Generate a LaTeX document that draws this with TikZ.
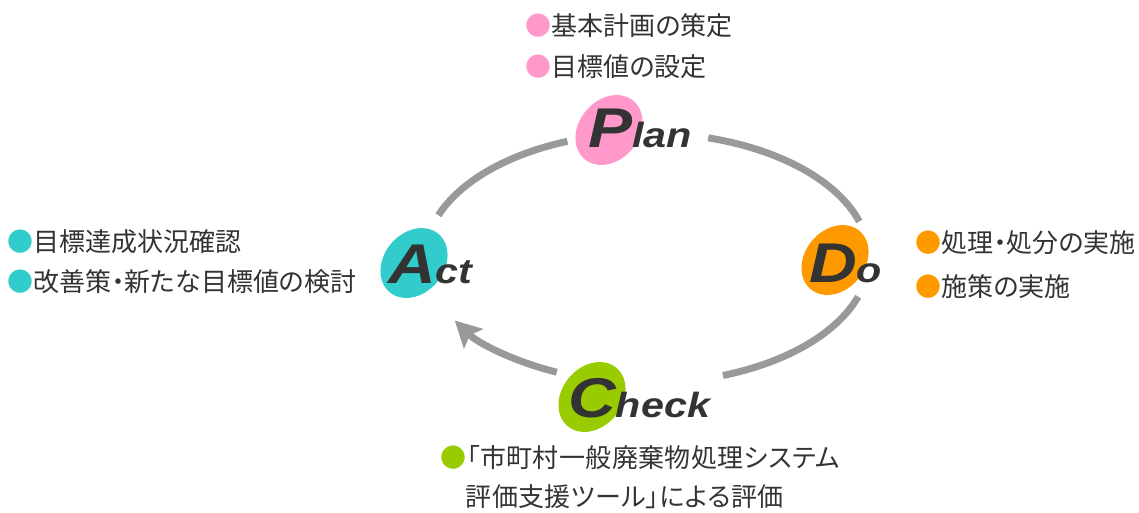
\documentclass[tikz,border=0pt]{standalone}
\usepackage{fontspec}
\usepackage{xcolor}
\usepackage{tikz}
\usetikzlibrary{arrows.meta}
\usetikzlibrary{shapes.geometric}
\newfontfamily\jpfont[RawFeature=+palt]{Noto Sans CJK JP}
\newfontfamily\jpwidefont[RawFeature=+palt,LetterSpace=1.5]{Noto Sans CJK JP}
\newfontfamily\pdcafont[FakeStretch=1.18]{Liberation Sans}
\definecolor{plan_pink}{HTML}{FF99CC}
\definecolor{do_orange}{HTML}{FF9900}
\definecolor{check_green}{HTML}{99CC00}
\definecolor{act_cyan}{HTML}{33CCCC}
\definecolor{arc_gray}{HTML}{999999}
\definecolor{text_gray}{HTML}{333333}
\tikzset{
    blob/.style = {ellipse, inner sep=0pt, minimum width=76pt, minimum height=60pt, rotate=50},
    pdca_label/.style = {anchor=base west, inner sep=0pt, text=text_gray, font=\pdcafont\bfseries\itshape},
    list_text/.style = {anchor=base west, inner sep=0pt, text=text_gray, font=\jpfont\fontsize{26}{26}\selectfont},
    wide_text/.style = {list_text, font=\jpwidefont\fontsize{26}{26}\selectfont},
    cycle_arc/.style = {draw=arc_gray, line width=7pt}
}
\newcommand{\pdcaword}[2]{{\fontsize{56}{56}\selectfont #1}{\fontsize{35}{35}\selectfont #2}}
\begin{document}
\begin{tikzpicture}
            [x=1pt, y=-1pt,
            >={Stealth[length=26pt, width=27pt, inset=5pt]}]

            \useasboundingbox (0,0) rectangle (1139,512);
            \coordinate (cycle_c) at (647,258);

            % the cycle
            \draw [cycle_arc] (cycle_c) ++(-111:222 and 125) arc [start angle=-111, end angle=-160, x radius=222, y radius=125];
            \draw [cycle_arc] (cycle_c) ++(-74:222 and 125) arc [start angle=-74, end angle=-17, x radius=222, y radius=125];
            \draw [cycle_arc] (cycle_c) ++(18:222 and 125) arc [start angle=18, end angle=70, x radius=222, y radius=125];
            \draw [cycle_arc, ->] (cycle_c) ++(114:222 and 125) arc [start angle=114, end angle=150, x radius=222, y radius=125];

            \node [blob, fill=plan_pink] (plan_blob) at (609,130) {};
            \node [blob, fill=do_orange] (do_blob) at (835,260) {};
            \node [blob, fill=check_green] (check_blob) at (592,397) {};
            \node [blob, fill=act_cyan] (act_blob) at (414,263) {};

            \node [pdca_label] (plan_label) at (588,147) {\pdcaword{P}{lan}};
            \node [pdca_label] (do_label) at (809,282) {\pdcaword{D}{o}};
            \node [pdca_label] (check_label) at (568,417) {\pdcaword{C}{heck}};
            \node [pdca_label] (act_label) at (388,283) {\pdcaword{A}{ct}};

            % lists
            \node [list_text] (plan_item_a) at (525.5,35) {\textcolor{plan_pink}{●}基本計画の策定};
            \node [list_text] (plan_item_b) at (525.5,76) {\textcolor{plan_pink}{●}目標値の設定};
            \node [list_text] (do_item_a) at (915.5,252) {\textcolor{do_orange}{●}処理・処分の実施};
            \node [list_text] (do_item_b) at (915.5,296) {\textcolor{do_orange}{●}施策の実施};
            \node [wide_text] (check_item_a) at (440.5,467) {\textcolor{check_green}{●}「市町村一般廃棄物処理システム};
            \node [wide_text] (check_item_b) at (465.5,506) {評価支援ツール」による評価};
            \node [list_text] (act_item_a) at (7.5,251) {\textcolor{act_cyan}{●}目標達成状況確認};
            \node [list_text] (act_item_b) at (7.5,291) {\textcolor{act_cyan}{●}改善策・新たな目標値の検討};
\end{tikzpicture}
\end{document}
